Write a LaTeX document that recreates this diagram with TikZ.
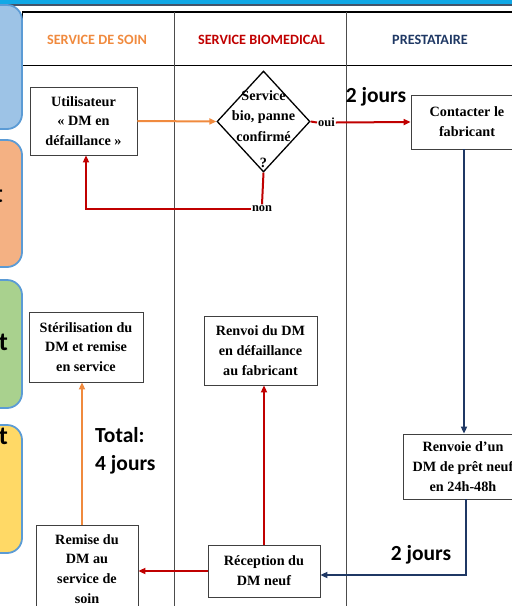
\documentclass[tikz,border=0pt]{standalone}
\usepackage{fontspec}
\setmainfont{Liberation Serif}
\newfontfamily\hdr{Carlito}
\usetikzlibrary{arrows.meta,shapes.geometric}
\definecolor{corange}{HTML}{F08A3E}
\definecolor{cred}{HTML}{C00000}
\definecolor{cnavy}{HTML}{1F3864}
\definecolor{sideblue}{HTML}{5B9BD5}
\definecolor{fblue}{HTML}{9DC3E6}
\definecolor{forange}{HTML}{F4B183}
\definecolor{fgreen}{HTML}{A9D18E}
\definecolor{fyellow}{HTML}{FFD966}
\definecolor{bandcyan}{HTML}{10A8E6}
\definecolor{banddark}{HTML}{44546A}
\begin{document}
\begin{tikzpicture}[x=1pt,y={(0pt,-1pt)},
  box/.style={draw=black!75, line width=0.8pt, fill=white, align=center,
    font=\bfseries\fontsize{14.2}{19.8}\selectfont, inner sep=0pt},
  hdrtext/.style={font=\hdr\bfseries\fontsize{14.2}{17}\selectfont},
  bigtext/.style={font=\hdr\bfseries\fontsize{21.5}{28}\selectfont, align=left, inner sep=0pt},
  lbl/.style={font=\bfseries\fontsize{12.4}{14}\selectfont, inner sep=1pt},
  conn/.style={line width=2pt},
  tip/.style={-{Triangle[length=7pt,width=6pt]}},
  side/.style={draw=sideblue, line width=1.8pt, rounded corners=15pt},
  sidetext/.style={font=\hdr\bfseries\fontsize{26}{30}\selectfont, inner sep=0pt},
  tline/.style={draw=black!70, line width=0.8pt}
]
\useasboundingbox (0,0) rectangle (512,606);
\clip (0,0) rectangle (512,606);
% top band
\fill[bandcyan] (0,0) rectangle (512,3.5);
\fill[banddark] (0,3.5) rectangle (512,5.5);
% table
\draw[line width=1.4pt] (22,12) -- (512,12);
\draw[line width=1pt] (22,65) -- (512,65);
\draw[line width=1pt] (22,12) -- (22,65);
\draw[tline] (174.5,12) -- (174.5,606);
\draw[tline] (346,12) -- (346,606);
% headers
\node[hdrtext, text=corange] (h1) at (97,40) {SERVICE DE SOIN};
\node[hdrtext, text=cred] (h2) at (261.5,40) {SERVICE BIOMEDICAL};
\node[hdrtext, text=cnavy] (h3) at (430,40) {PRESTATAIRE};
% side boxes
\draw[side, fill=fblue] (-40,5) rectangle (22,129);
\draw[side, fill=forange] (-40,140) rectangle (22,267);
\draw[side, fill=fgreen] (-40,280) rectangle (22,408);
\draw[side, fill=fyellow] (-40,425) rectangle (22,553);
\node[sidetext, anchor=east] (s2) at (3,194) {t};
\node[sidetext, anchor=east] (s3) at (8,342) {t};
\node[sidetext, anchor=east] (s4) at (8,436) {t};
% boxes
\node[box, minimum width=107pt, minimum height=68pt] (user) at (83.5,121) {Utilisateur\\« DM en\\défaillance »};
\node[draw=black, line width=1.3pt, diamond, minimum width=93pt, minimum height=101pt, inner sep=0pt] (dia) at (263.5,121.5) {};
\node[align=center, font=\bfseries\fontsize{14.2}{20.8}\selectfont, inner sep=0pt] (diatext) at (263.5,116) {Service\\bio, panne\\confirmé};
\node[font=\bfseries\fontsize{14.2}{17}\selectfont, inner sep=0pt] (q) at (263.5,163) {?};
\node[box, minimum width=112pt, minimum height=54pt] (contact) at (467,122) {Contacter le\\fabricant};
\node[box, minimum width=114pt, minimum height=70pt] (steril) at (86,347) {Stérilisation du\\DM et remise\\en service};
\node[box, minimum width=113pt, minimum height=69pt] (renvoi) at (260.5,350.5) {Renvoi du DM\\en défaillance\\au fabricant};
\node[box, minimum width=120pt, minimum height=65pt] (renvoie) at (463,466.5) {Renvoie d’un\\DM de prêt neuf\\en 24h-48h};
\node[box, minimum width=112pt, minimum height=52pt] (recep) at (264,571) {Réception du\\DM neuf};
\node[box, minimum width=102pt, minimum height=88pt] (remise) at (87,569) {Remise du\\DM au\\service de\\soin};
% labels
\node[lbl] (oui) at (326.5,122.5) {oui};
\node[lbl] (non) at (262,208.5) {non};
\node[bigtext] (j1) at (376,97) {2 jours};
\node[bigtext] (j2) at (421,555) {2 jours};
\node[bigtext, anchor=west] (total) at (95,451) {Total:\\4 jours};
% connectors
\draw[conn, corange, tip] (user.east) -- (dia.west);
\draw[conn, cred] (dia.east) -- (oui.west);
\draw[conn, cred, tip] (oui.east) -- (contact.west);
\draw[conn, cred] (dia.south) -- (non.north);
\draw[conn, cred, tip] (non.west) -| ([xshift=2.5pt]user.south);
\draw[conn, cnavy, tip] ([xshift=-3pt]contact.south) -- ([xshift=-3pt]contact.south |- renvoie.north);
\draw[conn, cnavy, tip] ([xshift=3pt]renvoie.south) |- ([yshift=-4pt]recep.east);
\draw[conn, cred, tip] (recep.north) -- (recep.north |- renvoi.south);
\draw[conn, cred, tip] (recep.west) -- (recep.west -| remise.east);
\draw[conn, corange, tip] ([xshift=-5pt]remise.north) -- ([xshift=-5pt]remise.north |- steril.south);
\end{tikzpicture}
\end{document}
